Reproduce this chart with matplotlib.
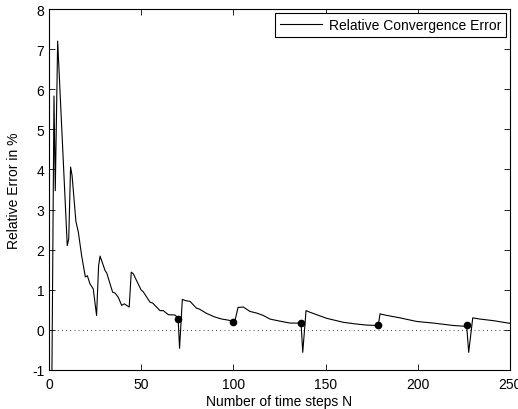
"""Relative convergence error vs number of time steps"""

import matplotlib
matplotlib.use("Agg")
import matplotlib.pyplot as plt

matplotlib.rc('font', **{"family": "Liberation Sans", "size": 10})
matplotlib.rcParams['axes.unicode_minus'] = False

# curve
steps = [1.5, 2.7, 3.4, 4.7, 9.9, 10.7, 11.7, 12.5, 14.6, 15.9, 17.7, 19.7, 20.8,
         22.2, 24.0, 25.8, 26.9, 27.7, 30.4, 31.3, 34.5, 35.8, 37.6, 39.4, 40.8,
         43.5, 44.6, 45.7, 49.9, 51.1, 54.8, 56.2, 60.2, 62.0, 64.7, 68.3, 70.0,
         70.8, 72.3, 74.0, 76.5, 80.0, 81.5, 85.5, 90.0, 93.7, 96.4, 99.6, 100.8,
         102.5, 105.4, 109.0, 112.6, 116.2, 119.8, 125.0, 130.7, 136.7, 137.6,
         139.4, 141.5, 150.5, 159.5, 166.0, 172.2, 177.7, 178.6, 179.5, 182.2,
         190.3, 199.4, 208.4, 219.2, 225.6, 226.5, 227.6, 229.8, 233.7, 241.0,
         249.0, 251.0]
rel_error = [-1.6, 5.83, 3.47, 7.2, 2.1, 2.27, 4.06, 3.85, 2.7, 2.44, 1.85, 1.32, 1.35,
             1.15, 1.02, 0.36, 1.6, 1.84, 1.48, 1.42, 0.94, 0.92, 0.81, 0.61, 0.65,
             0.57, 1.44, 1.40, 1.0, 0.95, 0.69, 0.67, 0.48, 0.48, 0.38, 0.37, 0.30,
             -0.46, 0.76, 0.73, 0.71, 0.54, 0.52, 0.41, 0.32, 0.27, 0.25, 0.22, 0.22,
             0.56, 0.57, 0.46, 0.42, 0.36, 0.27, 0.22, 0.17, 0.17, -0.56,
             0.48, 0.44, 0.29, 0.19, 0.15, 0.12, 0.11, 0.12, 0.40, 0.37,
             0.30, 0.21, 0.17, 0.11, 0.09, 0.11, -0.56, 0.30, 0.27, 0.23,
             0.17, 0.16]

# refinement points (black dots)
refine_steps = [70.0, 99.6, 136.7, 178.6, 226.5]
refine_error = [0.27, 0.19, 0.17, 0.12, 0.11]


def main():
    fig = plt.figure(figsize=(5.18, 4.10), dpi=100)
    ax = fig.add_axes([49 / 518, 1 - 371 / 410, 461 / 518, 361 / 410])

    ax.plot(steps, rel_error, color='k', linewidth=0.8, label='Relative Convergence Error')
    ax.plot(refine_steps, refine_error, 'o', color='k', markersize=4.5)
    ax.axhline(0, color='k', linestyle=(0, (1, 4)), linewidth=0.6)

    ax.set_xlim(0, 250)
    ax.set_ylim(-1, 8)
    ax.set_xticks([0, 50, 100, 150, 200, 250])
    ax.set_yticks(range(-1, 9))
    ax.tick_params(direction='in', top=True, right=True, length=4, width=0.6)
    ax.tick_params(axis='x', pad=5)
    for s in ax.spines.values():
        s.set_linewidth(0.8)

    ax.set_xlabel('Number of time steps N', labelpad=2)
    ax.set_ylabel('Relative Error in %', labelpad=8)

    leg = ax.legend(loc='upper right', fancybox=False, edgecolor='k',
                    handlelength=3.0, borderaxespad=0.3, borderpad=0.35,
                    handletextpad=0.5, framealpha=1)
    leg.get_frame().set_linewidth(0.8)

    fig.savefig('out.png', dpi=100)


if __name__ == '__main__':
    main()
